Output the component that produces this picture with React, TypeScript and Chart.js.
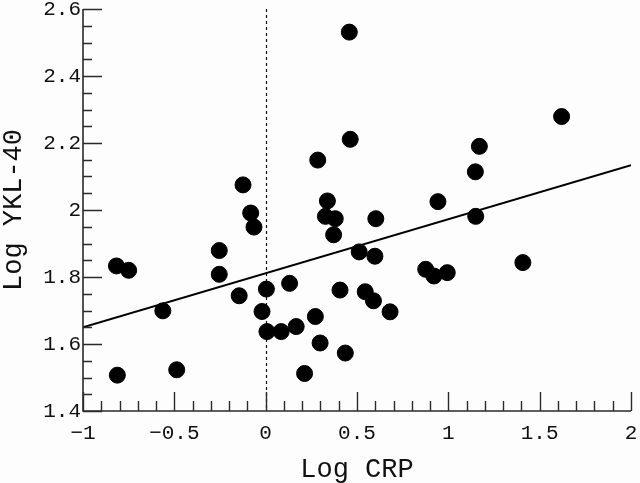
import React, { useEffect, useRef } from "react";
import { Chart, registerables } from "chart.js";

Chart.register(...registerables);

// Log CRP (x) and Log YKL-40 (y) for each patient
const logCrp = [
  -0.812, -0.817, -0.75, -0.563, -0.487, -0.254, -0.254, -0.124, -0.082, -0.064,
  -0.145, 0.004, -0.02, 0.007, 0.085, 0.167, 0.131, 0.272, 0.298, 0.213,
  0.285, 0.458, 1.62, 0.463, 1.17, 1.148, 0.338, 0.943, 0.327, 0.381,
  0.603, 1.15, 0.372, 0.512, 0.598, 1.408, 0.876, 0.921, 0.994, 0.407,
  0.545, 0.59, 0.681, 0.436,
];
const logYkl = [
  1.507, 1.833, 1.82, 1.699, 1.523, 1.879, 1.808, 2.075, 1.991, 1.949,
  1.744, 1.764, 1.697, 1.637, 1.637, 1.652, 1.781, 1.682, 1.603, 1.512,
  2.149, 2.531, 2.279, 2.211, 2.19, 2.114, 2.027, 2.025, 1.981, 1.974,
  1.974, 1.981, 1.926, 1.875, 1.862, 1.843, 1.823, 1.803, 1.813, 1.761,
  1.756, 1.729, 1.696, 1.573,
];

// regression line end points
const fitX = [-1, 2];
const fitY = [1.65, 2.134];

const xTickValues = [-1, -0.5, 0, 0.5, 1, 1.5, 2];
const xTickLabels = ["\u22121", "\u22120.5", "0", "0.5", "1", "1.5", "2"];
const yTickValues = [1.4, 1.6, 1.8, 2, 2.2, 2.4, 2.6];
const yTickLabels = ["1.4", "1.6", "1.8", "2", "2.2", "2.4", "2.6"];
const xMinorStep = 0.1;
const yMinorStep = 0.05;
const referenceX = 0;

const FONT = "'Liberation Mono', 'DejaVu Sans Mono', monospace";
const AXIS_COLOR = "#2a2a2a";

const framePlugin = {
  id: "frame",
  beforeDraw(chart: any) {
    const ctx = chart.ctx;
    ctx.save();
    ctx.fillStyle = "#fdfdfd";
    ctx.fillRect(0, 0, chart.width, chart.height);
    ctx.restore();
  },
  beforeDatasetsDraw(chart: any) {
    const { ctx, chartArea, scales } = chart;
    const x0 = Math.round(scales.x.getPixelForValue(referenceX)) + 0.5;
    ctx.save();
    ctx.strokeStyle = "#111";
    ctx.lineWidth = 1.2;
    ctx.setLineDash([3, 3]);
    ctx.beginPath();
    ctx.moveTo(x0, chartArea.top);
    ctx.lineTo(x0, chartArea.bottom);
    ctx.stroke();
    ctx.restore();
  },
  afterDraw(chart: any) {
    const { ctx, chartArea, scales } = chart;
    const xs = scales.x;
    const ys = scales.y;
    const left = chartArea.left;
    const bottom = chartArea.bottom;
    ctx.save();
    ctx.strokeStyle = AXIS_COLOR;
    ctx.lineWidth = 1.6;
    ctx.beginPath();
    ctx.moveTo(left, chartArea.top);
    ctx.lineTo(left, bottom);
    ctx.lineTo(chartArea.right, bottom);
    ctx.stroke();

    ctx.lineWidth = 1.4;
    ctx.beginPath();
    // x ticks (inward)
    const xMin = xTickValues[0];
    const xMax = xTickValues[xTickValues.length - 1];
    const nx = Math.round((xMax - xMin) / xMinorStep);
    for (let i = 0; i <= nx; i++) {
      const v = xMin + i * xMinorStep;
      const isMajor = xTickValues.some((t) => Math.abs(t - v) < 1e-6);
      const px = Math.round(xs.getPixelForValue(v)) + 0.5;
      ctx.moveTo(px, bottom);
      ctx.lineTo(px, bottom - (isMajor ? 19 : 10));
    }
    // y ticks (inward)
    const yMin = yTickValues[0];
    const yMax = yTickValues[yTickValues.length - 1];
    const ny = Math.round((yMax - yMin) / yMinorStep);
    for (let i = 0; i <= ny; i++) {
      const v = yMin + i * yMinorStep;
      const isMajor = yTickValues.some((t) => Math.abs(t - v) < 1e-6);
      const py = Math.round(ys.getPixelForValue(v)) + 0.5;
      ctx.moveTo(left, py);
      ctx.lineTo(left + (isMajor ? 19 : 9), py);
    }
    ctx.stroke();
    ctx.restore();
  },
};

export default function App() {
  const ref = useRef<HTMLCanvasElement | null>(null);

  useEffect(() => {
    document.body.style.margin = "0";
    const canvas = ref.current;
    if (!canvas) return;
    const points = logCrp.map((x, i) => ({ x, y: logYkl[i] }));
    const fit = fitX.map((x, i) => ({ x, y: fitY[i] }));

    const chart = new Chart(canvas, {
      type: "scatter",
      data: {
        datasets: [
          {
            label: "Patients",
            data: points,
            backgroundColor: "#000",
            borderColor: "#000",
            borderWidth: 1,
            pointRadius: 8,
            pointHoverRadius: 8,
            order: 1,
          },
          {
            label: "Regression",
            data: fit,
            showLine: true,
            borderColor: "#000",
            borderWidth: 2,
            pointRadius: 0,
            fill: false,
            order: 2,
          } as any,
        ],
      },
      options: {
        animation: false,
        responsive: false,
        devicePixelRatio: 1,
        layout: { padding: { top: 6, right: 6.5, left: 0, bottom: 0 } },
        plugins: { legend: { display: false }, tooltip: { enabled: false } },
        scales: {
          x: {
            type: "linear",
            min: xTickValues[0],
            max: xTickValues[xTickValues.length - 1],
            grid: { display: false, drawTicks: false, tickLength: 0 },
            border: { display: false },
            afterBuildTicks: (s: any) => {
              s.ticks = xTickValues.map((v) => ({ value: v }));
            },
            afterFit: (s: any) => {
              s.height = 72;
              s.paddingLeft = 0;
              s.paddingRight = 0;
            },
            ticks: {
              autoSkip: false,
              maxRotation: 0,
              padding: 10,
              color: "#111",
              font: { family: FONT, size: 21 },
              callback: (_v: any, i: number) => xTickLabels[i],
            },
            title: {
              display: true,
              text: "Log CRP",
              color: "#111",
              font: { family: FONT, size: 27, lineHeight: 1 },
              padding: { top: 0, bottom: 0 },
            },
          },
          y: {
            type: "linear",
            min: yTickValues[0],
            max: yTickValues[yTickValues.length - 1],
            grid: { display: false, drawTicks: false, tickLength: 0 },
            border: { display: false },
            afterBuildTicks: (s: any) => {
              s.ticks = yTickValues.map((v) => ({ value: v }));
            },
            afterFit: (s: any) => {
              s.width = 83;
              s.paddingTop = 0;
              s.paddingBottom = 0;
            },
            ticks: {
              autoSkip: false,
              padding: 2,
              color: "#111",
              font: { family: FONT, size: 21 },
              callback: (_v: any, i: number) => yTickLabels[i],
            },
            title: {
              display: true,
              text: "Log YKL-40",
              color: "#111",
              font: { family: FONT, size: 27, lineHeight: 1 },
              padding: { top: 0, bottom: 0 },
            },
          },
        },
      },
      plugins: [framePlugin],
    });
    return () => chart.destroy();
  }, []);

  return (
    <div style={{ width: 640, height: 483, position: "relative" }}>
      <canvas ref={ref} width={640} height={483} style={{ display: "block" }} />
    </div>
  );
}
